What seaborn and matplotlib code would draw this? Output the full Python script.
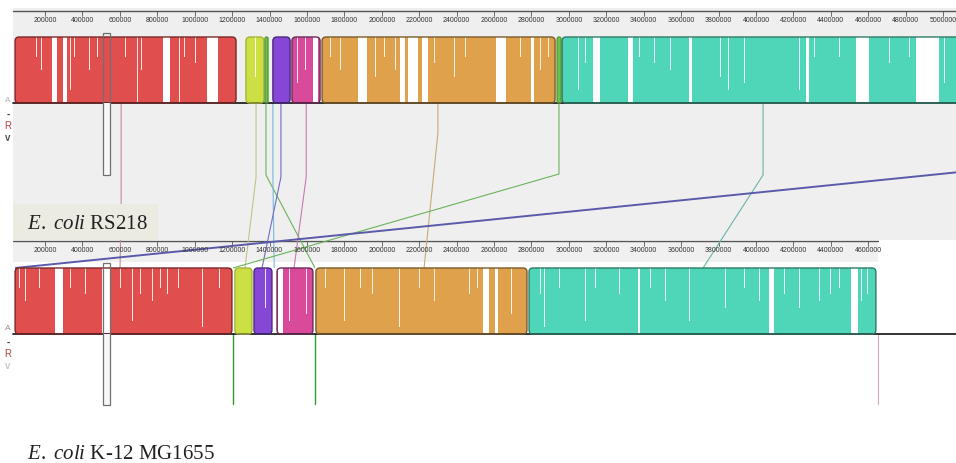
import matplotlib.pyplot as plt
import matplotlib.patches as mpatches
import seaborn as sns

sns.set_style('white')
plt.rcParams['font.family'] = ['Liberation Sans', 'DejaVu Sans']
plt.rcParams['mathtext.fontset'] = 'custom'
plt.rcParams['mathtext.it'] = 'Liberation Serif:italic'
plt.rcParams['mathtext.rm'] = 'Liberation Serif'

# screen mapping of the Mauve window (pixels -> bp)
BP_PER_PX = 5345
X0_PX = 7.6


def px(x):
    return (x - X0_PX) * BP_PER_PX


# --- data (bp) ---
genome_labels = [r'$\mathit{E.}$ $\mathit{coli}$ RS218', r'$\mathit{E.}$ $\mathit{coli}$ K-12 MG1655']
genome_len = [5150000, 4641652]
tick_max = [5000000, 4600000]

# locally collinear blocks
top_start = [40000, 1274000, 1376000, 1418000, 1520000, 1681000, 2937000, 2964000]
top_end = [1221000, 1370000, 1392000, 1510000, 1670000, 2926000, 2958000, 5150000]
top_lcb = ['red', 'yellow', 'green', 'purple', 'magenta', 'orange', 'green', 'teal']

bot_start = [40000, 1215000, 1317000, 1440000, 1648000, 2787000]
bot_end = [1199000, 1306000, 1413000, 1632000, 2776000, 4641000]
bot_lcb = ['red', 'yellow', 'purple', 'magenta', 'orange', 'teal']

# unaligned stretches inside blocks (full height white)
top_gap_start = [237000, 296000, 831000, 1066000, 1632000, 1873000, 2097000, 2140000, 2215000,
                 2611000, 2798000, 3129000, 3316000, 3642000, 4267000, 4535000, 4855000]
top_gap_end = [264000, 317000, 868000, 1125000, 1659000, 1921000, 2124000, 2194000, 2247000,
               2664000, 2814000, 3167000, 3343000, 3658000, 4284000, 4604000, 4978000]
bot_gap_start = [253000, 505000, 1445000, 2541000, 2605000, 3370000, 4070000, 4508000]
bot_gap_end = [296000, 545000, 1472000, 2573000, 2621000, 3380000, 4096000, 4545000]

# similarity profile dips (position, depth as fraction of block height)
top_dip_pos = [77000, 109000, 125000, 152000, 179000, 280000, 323000, 334000, 360000, 440000,
               483000, 574000, 628000, 692000, 718000, 761000, 921000, 948000, 1002000,
               1323000, 1456000, 1552000, 1590000,
               1724000, 1777000, 1830000, 1964000, 2017000, 2071000, 2284000, 2338000, 2391000,
               2445000, 2525000, 2712000, 2739000, 2846000, 2889000,
               3006000, 3049000, 3087000, 3220000, 3380000, 3407000, 3460000, 3541000, 3701000,
               3808000, 3851000, 3888000, 3941000, 4011000, 4075000, 4182000, 4235000, 4315000,
               4369000, 4449000, 4476000, 4663000, 4716000, 4770000, 4823000, 5010000, 5037000]
top_dip_depth = [0.4, 0.9, 1.0, 0.3, 0.5, 0.6, 1.0, 0.8, 0.3, 0.5,
                 0.3, 0.4, 0.3, 1.0, 0.5, 0.3, 1.0, 0.3, 0.4,
                 0.6, 0.8, 0.7, 0.5,
                 0.3, 0.5, 0.4, 0.6, 0.3, 0.5, 0.4, 0.3, 0.6,
                 0.3, 0.5, 0.4, 0.3, 0.5, 0.3,
                 0.5, 0.8, 0.4, 0.6, 0.3, 0.9, 0.4, 0.5, 0.3,
                 0.6, 0.8, 0.4, 0.7, 0.5, 0.3, 0.4, 0.8, 0.3,
                 0.5, 0.3, 0.7, 0.6, 0.4, 0.8, 0.3, 0.7, 0.5]
bot_dip_pos = [66000, 98000, 141000, 173000, 334000, 371000, 414000, 451000, 494000, 601000,
               670000, 708000, 745000, 772000, 815000, 857000, 911000, 991000, 1044000, 1082000,
               1135000, 1269000, 1376000, 1509000, 1563000, 1600000,
               1697000, 1750000, 1803000, 1884000, 1948000, 2001000, 2044000, 2097000, 2151000,
               2204000, 2284000, 2354000, 2418000, 2471000, 2514000, 2648000, 2695000, 2728000,
               2846000, 2872000, 2952000, 3006000, 3087000, 3140000, 3193000, 3273000, 3434000,
               3514000, 3594000, 3647000, 3701000, 3765000, 3835000, 3888000, 3941000, 4021000,
               4155000, 4235000, 4289000, 4342000, 4396000, 4449000, 4566000, 4598000]
bot_dip_depth = [0.3, 0.5, 0.4, 0.3, 0.3, 0.9, 0.4, 0.3, 0.5, 0.3,
                 0.8, 0.4, 0.9, 0.5, 0.3, 0.4, 0.3, 0.8, 0.9, 0.4,
                 0.3, 0.5, 0.6, 0.8, 0.5, 0.7,
                 0.3, 0.5, 0.8, 0.3, 0.4, 0.6, 0.3, 0.9, 0.4,
                 0.3, 0.5, 0.3, 0.6, 0.4, 0.3, 0.5, 0.7, 0.4,
                 0.4, 0.9, 0.3, 0.5, 0.8, 0.3, 0.5, 0.4, 0.3,
                 0.5, 0.3, 0.8, 0.4, 0.3, 0.6, 0.4, 0.3, 0.5,
                 0.4, 0.6, 0.3, 0.5, 0.4, 0.3, 0.5, 0.4]

# homology connectors between the two genomes
conn_top = [607000, 1328000, 1381000, 1418000, 1461000, 1596000, 2300000, 2947000, 4038000, 5090000]
conn_bot = [601000, 1269000, 1643000, 1425000, 1360000, 1531000, 2226000, 1205000, 3717000, 40000]
conn_lcb = ['red', 'yellow', 'green', 'cyan', 'purple', 'magenta', 'orange', 'green', 'teal', 'blue']

# tiny inverted blocks / end marker in the lower genome
bot_marks = [1205000, 1643000, 4652000]
bot_mark_lcb = ['green', 'green', 'end']

# --- styles ---
fill = {'red': '#e04e4e', 'yellow': '#cde043', 'green': '#6cc24a', 'purple': '#8646d6',
        'magenta': '#d94a9a', 'orange': '#dfa14c', 'teal': '#4fd6b8'}
edge = {'red': '#7a2828', 'yellow': '#a6b43a', 'green': '#5a9a3c', 'purple': '#4a2a80',
        'magenta': '#6a2a5a', 'orange': '#7a5a2a', 'teal': '#2e7a66'}
line_col = {'red': '#c88c96', 'yellow': '#bcc68a', 'green': '#6ab35a', 'cyan': '#7ab8dc',
            'purple': '#6e6ec8', 'magenta': '#c87aaa', 'orange': '#c8aa78', 'teal': '#6ab4a8',
            'blue': '#5a5aaa', 'end': '#d4aab4'}
conn_bend = [200, 177, 175, 175, 177, 177, 133, 174, 175, 172]
conn_lw = [0.8] * 9 + [1.4]
mark_col = {'green': '#2f9a2f', 'end': '#d4aab4'}

rows = [dict(ruler=11, top=37, bot=103, conn=103),
        dict(ruler=241, top=268, bot=334, conn=268)]

fig = plt.figure(figsize=(9.56, 4.63), dpi=100)
ax = fig.add_axes([0, 0, 1, 1])
ax.set_xlim(px(0), px(956))
ax.set_ylim(463, 0)
ax.axis('off')

# panel backgrounds
ax.add_patch(mpatches.Rectangle((px(13), 8), px(956) - px(13), 232, fc='#efefef', ec='none', zorder=0))
ax.add_patch(mpatches.Rectangle((px(13), 241), genome_len[1] + 10000 - px(13), 21, fc='#f0f0f0', ec='none', zorder=0))

# rulers
for i, r in enumerate(rows):
    right = px(956) if i == 0 else genome_len[1] + 10000
    ax.plot([px(13), right], [r['ruler'], r['ruler']], color='#555555', lw=1.0, zorder=2)
    clip = mpatches.Rectangle((px(13), r['ruler'] - 2), right - px(13), 25, transform=ax.transData)
    for t in range(200000, tick_max[i] + 1, 200000):
        ax.plot([t, t], [r['ruler'], r['ruler'] + 5], color='#555555', lw=0.6, zorder=2)
        tx = ax.text(t, r['ruler'] + 9, str(t), ha='center', va='center', fontsize=5,
                     color='#333333', zorder=3)
        tx.set_clip_path(clip)
    # centre line of the genome
    ax.plot([px(13), px(956)], [r['bot'], r['bot']], color='#111111', lw=1.2, zorder=5)


def draw_blocks(starts, ends, lcbs, gs, ge, dpos, ddep, r):
    h = r['bot'] - r['top']
    for s, e, c in zip(starts, ends, lcbs):
        rs = min(4 * BP_PER_PX, (e - s) / 2)
        box = mpatches.FancyBboxPatch((s, r['top']), e - s, h,
                                      boxstyle=f'round,pad=0,rounding_size={rs}',
                                      mutation_aspect=1 / BP_PER_PX,
                                      fc=fill[c], ec='none', zorder=3)
        ax.add_patch(box)
        for a, b in zip(gs, ge):
            if a < e and b > s:
                g = mpatches.Rectangle((a, r['top']), b - a, h, fc='white', ec='none', zorder=4)
                g.set_clip_path(box)
                ax.add_patch(g)
        for p, d in zip(dpos, ddep):
            if s < p < e:
                g = mpatches.Rectangle((p - 2500, r['top']), 5000, d * h, fc='white', ec='none',
                                       alpha=0.85, zorder=4)
                g.set_clip_path(box)
                ax.add_patch(g)
        ax.add_patch(mpatches.FancyBboxPatch((s, r['top']), e - s, h,
                                             boxstyle=f'round,pad=0,rounding_size={rs}',
                                             mutation_aspect=1 / BP_PER_PX,
                                             fc='none', ec=edge[c], lw=1.0, zorder=6))


draw_blocks(top_start, top_end, top_lcb, top_gap_start, top_gap_end, top_dip_pos, top_dip_depth, rows[0])
draw_blocks(bot_start, bot_end, bot_lcb, bot_gap_start, bot_gap_end, bot_dip_pos, bot_dip_depth, rows[1])

# connectors
for xt, xb, c, yb, lw in zip(conn_top, conn_bot, conn_lcb, conn_bend, conn_lw):
    ax.plot([xt, xt, xb], [rows[0]['conn'], yb, rows[1]['conn']], color=line_col[c], lw=lw,
            zorder=2.5, solid_capstyle='butt')

for xm, c in zip(bot_marks, bot_mark_lcb):
    ax.plot([xm, xm], [rows[1]['bot'], 404], color=mark_col[c], lw=1.0 if c == 'green' else 0.8, zorder=2.5)

# cursor boxes
for y0, y1, yc in [(33, 175, 103), (263, 405, 334)]:
    ax.add_patch(mpatches.Rectangle((px(103), yc), px(110) - px(103), y1 - yc,
                                    fc='#f8f8f8', ec='none', zorder=6.5))
    ax.add_patch(mpatches.Rectangle((px(103), y0), px(110) - px(103), y1 - y0,
                                    fc='none', ec='#707070', lw=0.9, zorder=7))

# genome labels
ax.add_patch(mpatches.Rectangle((px(13), 204), px(158) - px(13), 36, fc='#ecebe2', ec='none', zorder=8))
ax.text(px(27), 229, genome_labels[0], fontsize=15, family='Liberation Serif', color='#222222',
        va='baseline', ha='left', zorder=9)
ax.text(px(27), 459, genome_labels[1], fontsize=15, family='Liberation Serif', color='#222222',
        va='baseline', ha='left', zorder=9)

# Mauve side controls
for y0, cols in [(101, ['#b0b0b0', '#333333', '#b04040', '#555555']),
                 (329, ['#909090', '#333333', '#b04040', '#c8c8c8'])]:
    ax.text(px(8), y0, 'A', fontsize=6, color=cols[0], ha='center', va='center')
    ax.text(px(8), y0 + 14, '-', fontsize=7, color=cols[1], ha='center', va='center', fontweight='bold')
    ax.text(px(8), y0 + 25, 'R', fontsize=7, color=cols[2], ha='center', va='center')
    ax.text(px(8), y0 + 37, 'v', fontsize=7, color=cols[3], ha='center', va='center', fontweight='bold')

fig.savefig('out.png', dpi=100)
